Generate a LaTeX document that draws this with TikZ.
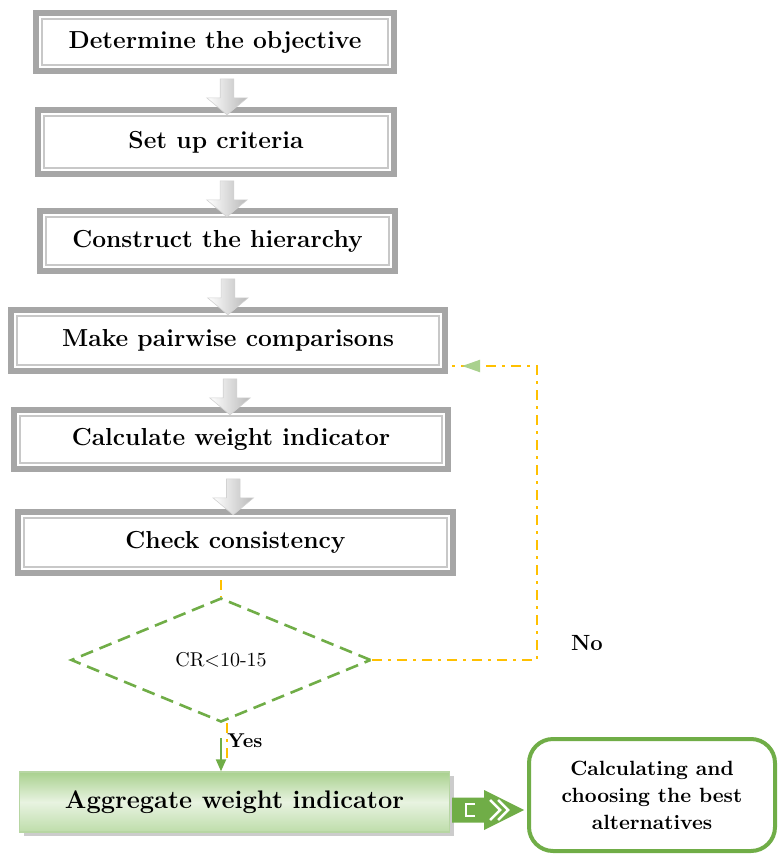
\documentclass[tikz,border=0pt]{standalone}
\usepackage{fontspec}
\usetikzlibrary{positioning}
\usetikzlibrary{calc}
\usetikzlibrary{shapes.geometric, shapes.arrows}
\usetikzlibrary{shadows}
\usetikzlibrary{arrows.meta}
\usetikzlibrary{decorations.markings}
\definecolor{framegray}{RGB}{166,166,166}
\definecolor{innergray}{RGB}{200,200,200}
\definecolor{gold}{RGB}{255,192,0}
\definecolor{leafgreen}{RGB}{112,173,71}
\definecolor{tipgreen}{RGB}{169,209,142}
\definecolor{aggtop}{RGB}{169,209,142}
\definecolor{aggmid}{RGB}{232,243,225}
\definecolor{aggbot}{RGB}{190,221,170}
\tikzset{
stepframe/.style={ % grey double frame of each step
rectangle, draw=framegray, line width=3pt, fill=white,
font=\fontsize{12.3}{15}\selectfont\bfseries,
path picture={\draw[innergray, line width=1pt]
([shift={(3pt,3pt)}]path picture bounding box.south west) rectangle
([shift={(-3pt,-3pt)}]path picture bounding box.north east);}},
grayarrow/.style={ % small block arrow between two steps
single arrow, shape border rotate=270,
left color=white, right color=gray!55, draw=gray!35, line width=0.3pt,
minimum height=18pt, inner sep=3.25pt,
single arrow head extend=6.75pt, single arrow tip angle=100},
crdiamond/.style={
diamond, draw=leafgreen, line width=1.3pt, dash pattern=on 6.5pt off 3.5pt,
minimum width=150pt, minimum height=62pt, inner sep=0pt,
font=\fontsize{10}{12}\selectfont},
aggbox/.style={
rectangle, draw=leafgreen!50, line width=0.6pt,
top color=aggtop, bottom color=aggbot, middle color=aggmid,
drop shadow={shadow xshift=2pt, shadow yshift=-2pt, fill=black!40},
font=\fontsize{12.7}{15}\selectfont\bfseries},
calcbox/.style={
rectangle, rounded corners=12pt, draw=leafgreen, line width=2pt,
fill=white, align=center,
font=\fontsize{10.3}{13.5}\selectfont\bfseries},
goldline/.style={
gold, line width=1pt, dash pattern=on 5pt off 3pt on 1.5pt off 3pt},
yesarrow/.style={
leafgreen, line width=1pt, -{Triangle[length=6pt, width=5pt]}},
lbl/.style={font=\fontsize{11}{13}\selectfont\bfseries}
}

\begin{document}
\begin{tikzpicture}[x=0.5pt, y=-0.5pt]
\useasboundingbox (0,0) rectangle (779,855);
% steps
\node[stepframe, minimum width=179pt, minimum height=29pt] (b1) at (215,42) {Determine the objective};
\node[stepframe, minimum width=178pt, minimum height=32pt] (b2) at (216,142) {Set up criteria};
\node[stepframe, minimum width=177.5pt, minimum height=30pt] (b3) at (217.5,241) {Construct the hierarchy};
\node[stepframe, minimum width=217pt, minimum height=30.5pt] (b4) at (228,340.5) {Make pairwise comparisons};
\node[stepframe, minimum width=217pt, minimum height=29.5pt] (b5) at (231,439.5) {Calculate weight indicator};
\node[stepframe, minimum width=217.5pt, minimum height=30.5pt] (b6) at (235.5,542.5) {Check consistency};
\node[grayarrow, xshift=5.75pt, yshift=-1.75pt] (a12) at ($(b1.south)!.5!(b2.north)$) {};
\node[grayarrow, xshift=5.1pt, yshift=-1.75pt] (a23) at ($(b2.south)!.5!(b3.north)$) {};
\node[grayarrow, xshift=2.6pt, yshift=-1.75pt] (a34) at ($(b3.south)!.5!(b4.north)$) {};
\node[grayarrow, xshift=0.25pt, yshift=-1.75pt] (a45) at ($(b4.south)!.5!(b5.north)$) {};
\node[grayarrow, yshift=-1.75pt] (a56) at ($(b5.south)!.5!(b6.north)$) {};
% test
\node[crdiamond] (dia) at (221,660) {CR<10-15};
\draw[goldline] ([yshift=-2pt]dia.north |- b6.south) -- (dia.north);
\coordinate (nocorner) at (537,366);
\draw[goldline, postaction={decorate, decoration={markings,
  mark=at position -5pt with {\arrow[tipgreen]{Triangle[length=9pt, width=6pt]}}}}]
  (dia.east) -| (nocorner) -- ([xshift=2pt]b4.east |- nocorner);
\node[lbl] (no) at (587,643) {No};
\node[lbl, font=\fontsize{10}{12}\selectfont\bfseries] (yes) at (245,741) {Yes};
% result
\node[aggbox, minimum width=215pt, minimum height=30pt] (agg) at (234.5,802) {Aggregate weight indicator};
\node[calcbox, minimum width=123pt, minimum height=56pt] (calc) at (652,795) {Calculating and\\choosing the best\\alternatives};
\draw[goldline] ([xshift=3pt]dia.south) -- ++(0,40);
\draw[yesarrow] ([yshift=-7.5pt]dia.south) -- (agg.north -| dia.south);
\coordinate (ba) at ([xshift=1pt, yshift=-4pt]agg.east);
\fill[leafgreen, shift={(ba)}] (0,-12.5) -- (32,-12.5) -- (32,-20) -- (72,0)
  -- (32,20) -- (32,12.5) -- (0,12.5) -- cycle;
\begin{scope}[shift={(ba)}, white, line width=1.3pt]
\draw (23,-6) -- (14,-6) -- (14,6) -- (23,6);
\draw (38,-10) -- (48,0) -- (38,10);
\draw (46,-10) -- (56,0) -- (46,10);
\end{scope}
\end{tikzpicture}
\end{document}
